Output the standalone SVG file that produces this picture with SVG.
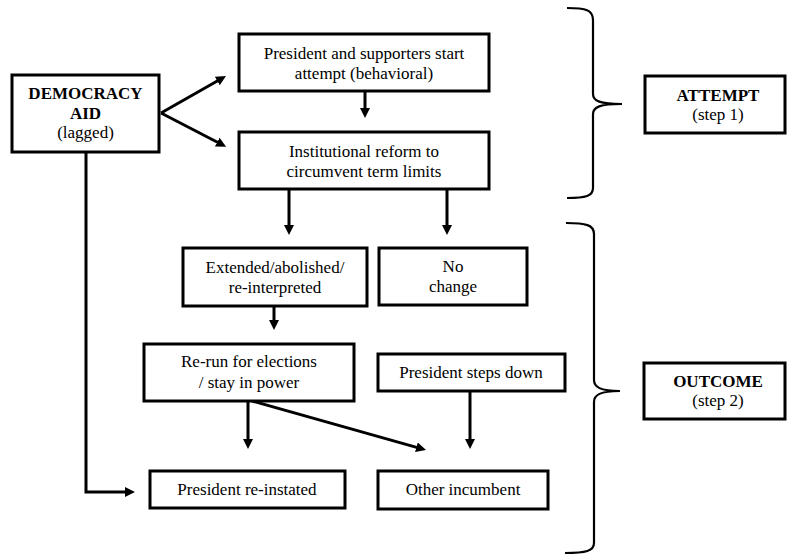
<svg xmlns="http://www.w3.org/2000/svg" width="787" height="556" viewBox="0 0 787 556" font-family="Liberation Serif, Times New Roman, serif" font-size="17">
<style>
.box{fill:#fff;stroke:#000;stroke-width:3}
text{fill:#000;text-anchor:middle}
.b{font-weight:bold}
.c{fill:none;stroke:#000;stroke-width:3}
.br{fill:none;stroke:#000;stroke-width:2.2}
</style>
<defs>
<marker id="ah" markerUnits="userSpaceOnUse" markerWidth="12" markerHeight="12" refX="3" refY="5" orient="auto">
<path d="M0,0 L10,5 L0,10 z" fill="#000"/>
</marker>
</defs>
<g id="connectors">
<line class="c" x1="161" y1="113" x2="219.9" y2="79.5" marker-end="url(#ah)"/>
<line class="c" x1="161" y1="113" x2="219.9" y2="143.5" marker-end="url(#ah)"/>
<line class="c" x1="365" y1="91" x2="365" y2="111" marker-end="url(#ah)"/>
<line class="c" x1="289" y1="189" x2="289" y2="228" marker-end="url(#ah)"/>
<line class="c" x1="447" y1="189" x2="447" y2="228" marker-end="url(#ah)"/>
<line class="c" x1="274" y1="306" x2="274" y2="323" marker-end="url(#ah)"/>
<line class="c" x1="248" y1="401" x2="248" y2="442" marker-end="url(#ah)"/>
<line class="c" x1="470" y1="391" x2="470" y2="442" marker-end="url(#ah)"/>
<line class="c" x1="252" y1="401" x2="419.3" y2="448.1" marker-end="url(#ah)"/>
<path class="c" d="M86,152 V492 H128" marker-end="url(#ah)"/>
</g>
<g id="brace1"><path class="br" d="M567,8 C586,8 593,10 593,20 V94 C593,101 600,104 622,104 C600,104 593,107 593,114 V188 C593,196 586,198 567,198"/></g>
<g id="brace2"><path class="br" d="M566,223 C586,223 594,225 594,234 V380 C594,387 600,391 620,391 C600,391 594,395 594,402 V543 C594,551 586,553 565,553"/></g>
<g id="democracy"><rect class="box" x="12" y="75" width="147" height="77"/>
<text class="b" x="85.5" y="99">DEMOCRACY</text><text class="b" x="85.5" y="119">AID</text><text x="85.5" y="138">(lagged)</text></g>
<g id="attempt-start"><rect class="box" x="239" y="34" width="250" height="57"/>
<text x="364" y="59">President and supporters start</text><text x="364" y="79">attempt (behavioral)</text></g>
<g id="reform"><rect class="box" x="239" y="132" width="250" height="57"/>
<text x="364" y="157">Institutional reform to</text><text x="364" y="177">circumvent term limits</text></g>
<g id="extended"><rect class="box" x="183" y="248" width="184" height="58"/>
<text x="275" y="273">Extended/abolished/</text><text x="275" y="293">re-interpreted</text></g>
<g id="nochange"><rect class="box" x="379" y="248" width="148" height="57"/>
<text x="453" y="272">No</text><text x="453" y="292">change</text></g>
<g id="rerun"><rect class="box" x="144" y="344" width="210" height="57"/>
<text x="249" y="367">Re-run for elections</text><text x="249" y="388">/ stay in power</text></g>
<g id="stepsdown"><rect class="box" x="378" y="354" width="187" height="37"/>
<text x="471" y="378">President steps down</text></g>
<g id="reinstated"><rect class="box" x="150" y="471" width="195" height="37"/>
<text x="247" y="495">President re-instated</text></g>
<g id="other"><rect class="box" x="378" y="471" width="170" height="38"/>
<text x="463" y="495">Other incumbent</text></g>
<g id="attempt"><rect class="box" x="645" y="76" width="140" height="57"/>
<text class="b" x="718" y="101">ATTEMPT</text><text x="718" y="120">(step 1)</text></g>
<g id="outcome"><rect class="box" x="644" y="363" width="141" height="56"/>
<text class="b" x="718" y="387">OUTCOME</text><text x="718" y="406">(step 2)</text></g>
</svg>
